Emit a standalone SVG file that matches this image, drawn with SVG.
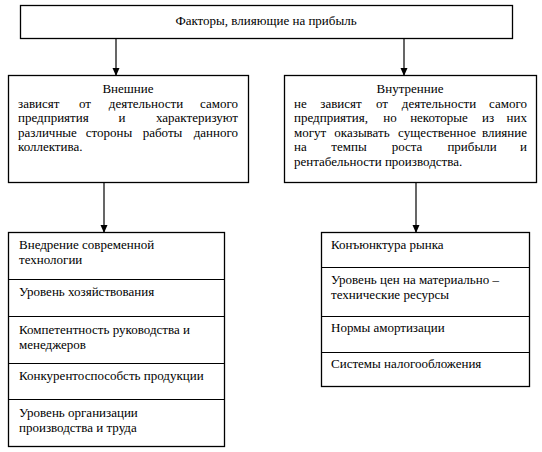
<svg xmlns="http://www.w3.org/2000/svg" width="542" height="452" viewBox="0 0 542 452">
<style>
rect{fill:#fff;stroke:#000;stroke-width:1.3}
line.d{stroke:#000;stroke-width:1.2}
text{font-size:13px;fill:#000}
.c{text-anchor:middle}
.m{text-anchor:middle}
.r{text-anchor:end}
.e{stroke:#000;stroke-width:1.2}
</style>
<defs>
<marker id="ah" markerWidth="8" markerHeight="8" refX="7" refY="4" orient="auto" markerUnits="userSpaceOnUse">
<path d="M0,0.5 L8,4 L0,7.5 Z" fill="#000"/>
</marker>
</defs>
<g id="connectors">
<line class="e" x1="116" y1="39" x2="116" y2="75" marker-end="url(#ah)"/>
<line class="e" x1="404" y1="39" x2="404" y2="75" marker-end="url(#ah)"/>
<line class="e" x1="104" y1="183" x2="104" y2="232" marker-end="url(#ah)"/>
<line class="e" x1="416" y1="183" x2="416" y2="232" marker-end="url(#ah)"/>
</g>
<g font-family="'Liberation Serif', 'Times New Roman', Times, serif">
<g id="top">
<rect x="20.5" y="5.5" width="492" height="33"/>
<text class="c" x="266" y="25">Факторы, влияющие на прибыль</text>
</g>
<g id="external">
<rect x="8.5" y="75.5" width="240" height="107"/>
<text class="c" x="128" y="93">Внешние</text>
<text x="18" y="107.5">зависят</text>
<text class="m" x="85" y="107.5">от</text>
<text class="m" x="146" y="107.5">деятельности</text>
<text class="r" x="238" y="107.5">самого</text>
<text x="18" y="122">предприятия</text>
<text class="m" x="122" y="122">и</text>
<text class="r" x="238" y="122">характеризуют</text>
<text x="18" y="136.5">различные</text>
<text class="m" x="109" y="136.5">стороны</text>
<text class="m" x="162.5" y="136.5">работы</text>
<text class="r" x="238" y="136.5">данного</text>
<text x="18" y="151">коллектива.</text>
</g>
<g id="internal">
<rect x="284.5" y="75.5" width="252" height="107"/>
<text class="c" x="410" y="93">Внутренние</text>
<text x="294" y="107.5">не</text>
<text class="m" x="341" y="107.5">зависят</text>
<text class="m" x="382" y="107.5">от</text>
<text class="m" x="439" y="107.5">деятельности</text>
<text class="r" x="527" y="107.5">самого</text>
<text x="294" y="122">предприятия,</text>
<text class="m" x="390" y="122">но</text>
<text class="m" x="439" y="122">некоторые</text>
<text class="m" x="488" y="122">из</text>
<text class="r" x="527" y="122">них</text>
<text x="294" y="136.5">могут</text>
<text class="m" x="362" y="136.5">оказывать</text>
<text class="m" x="437" y="136.5">существенное</text>
<text class="r" x="527" y="136.5">влияние</text>
<text x="294" y="151">на</text>
<text class="m" x="349" y="151">темпы</text>
<text class="m" x="407" y="151">роста</text>
<text class="m" x="472" y="151">прибыли</text>
<text class="r" x="527" y="151">и</text>
<text x="294" y="165.5">рентабельности производства.</text>
</g>
<g id="ext-list">
<rect x="8.5" y="232.5" width="216" height="214"/>
<line class="d" x1="8.5" y1="279.5" x2="224.5" y2="279.5"/>
<line class="d" x1="8.5" y1="316.5" x2="224.5" y2="316.5"/>
<line class="d" x1="8.5" y1="363.5" x2="224.5" y2="363.5"/>
<line class="d" x1="8.5" y1="399.5" x2="224.5" y2="399.5"/>
<text x="19" y="249">Внедрение современной</text>
<text x="19" y="264">технологии</text>
<text x="19" y="296">Уровень хозяйствования</text>
<text x="19" y="334">Компетентность руководства и</text>
<text x="19" y="349">менеджеров</text>
<text x="19" y="380">Конкурентоспособсть продукции</text>
<text x="19" y="417">Уровень организации</text>
<text x="19" y="432">производства и труда</text>
</g>
<g id="int-list">
<rect x="321.5" y="232.5" width="208" height="154"/>
<line class="d" x1="321.5" y1="267.5" x2="529.5" y2="267.5"/>
<line class="d" x1="321.5" y1="316.5" x2="529.5" y2="316.5"/>
<line class="d" x1="321.5" y1="352.5" x2="529.5" y2="352.5"/>
<text x="331" y="249">Конъюнктура рынка</text>
<text x="331" y="284">Уровень цен на материально –</text>
<text x="331" y="299">технические ресурсы</text>
<text x="331" y="332">Нормы амортизации</text>
<text x="331" y="368">Системы налогообложения</text>
</g>
</g>
</svg>
